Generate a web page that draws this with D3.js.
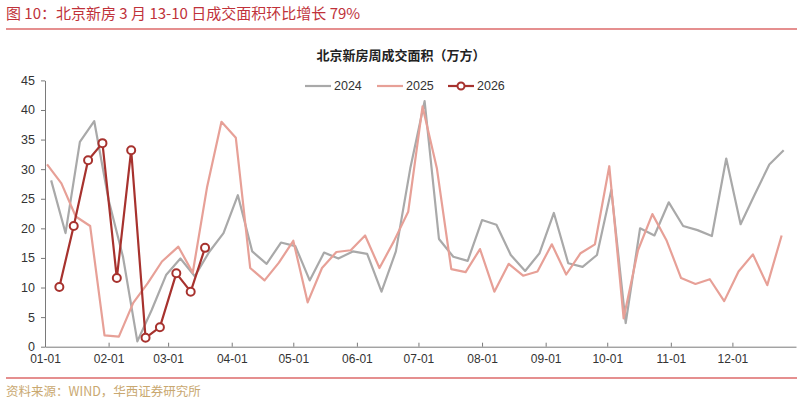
<!DOCTYPE html>
<html>
<head>
<meta charset="utf-8">
<script src="https://cdn.jsdelivr.net/npm/d3@7"></script>
<style>
  html, body { margin: 0; padding: 0; background: #fff; }
  text { font-family: "Liberation Sans", Arial, "Noto Sans CJK SC", sans-serif; }
  .cjk { font-family: "Noto Sans CJK SC", sans-serif; }
</style>
</head>
<body>
<div id="chart"></div>
<script>
// weekly data (Thursday of each week), plotted on a shared MM-DD axis
const weeks2024 = ["01-04","01-11","01-18","01-25","02-01","02-08","02-15","02-22","02-29",
  "03-07","03-14","03-21","03-28","04-04","04-11","04-18","04-25","05-02","05-09","05-16",
  "05-23","05-30","06-06","06-13","06-20","06-27","07-04","07-11","07-18","07-25","08-01",
  "08-08","08-15","08-22","08-29","09-05","09-12","09-19","09-26","10-03","10-10","10-17",
  "10-24","10-31","11-07","11-14","11-21","11-28","12-05","12-12","12-19","12-26"]
const area2024 = [28.1,19.2,34.6,38.1,24.8,15.2,0.9,6.2,12.1,14.9,11.9,16.0,19.2,25.6,16.1,
  14.0,17.6,17.0,11.2,15.9,14.9,16.1,15.7,9.3,16.1,30.1,41.5,18.2,15.2,14.5,21.4,20.6,15.5,
  12.8,15.8,22.6,14.1,13.5,15.5,26.5,4.0,20.0,18.8,24.4,20.4,19.7,18.7,31.8,20.7,25.8,30.8,33.2]

const weeks2025 = ["01-02","01-09","01-16","01-23","01-30","02-06","02-13","02-20","02-27",
  "03-06","03-13","03-20","03-27","04-03","04-10","04-17","04-24","05-01","05-08","05-15",
  "05-22","05-29","06-05","06-12","06-19","06-26","07-03","07-10","07-17","07-24","07-31",
  "08-07","08-14","08-21","08-28","09-04","09-11","09-18","09-25","10-02","10-09","10-16",
  "10-23","10-30","11-06","11-13","11-20","11-27","12-04","12-11","12-18","12-25"]
const area2025 = [30.8,27.6,22.0,20.4,1.9,1.7,7.4,10.7,14.4,16.9,12.5,27.0,38.0,35.3,13.3,
  11.2,14.2,17.9,7.5,13.3,16.0,16.3,18.8,13.3,17.8,22.8,40.6,30.1,13.1,12.6,16.5,9.3,14.0,
  12.0,12.7,17.3,12.2,15.8,17.3,30.5,4.8,16.3,22.4,17.9,11.6,10.6,11.4,7.7,12.7,15.6,10.4,18.8]

const weeks2026 = ["01-08","01-15","01-22","01-29","02-05","02-12","02-19","02-26","03-05","03-12","03-19"]
const area2026 = [10.1,20.4,31.5,34.4,11.6,33.2,1.5,3.3,12.4,9.3,16.7]

const yTicks = [0,5,10,15,20,25,30,35,40,45]
const monthTicks = ["01-01","02-01","03-01","04-01","05-01","06-01","07-01","08-01","09-01","10-01","11-01","12-01"]

const width = 800, height = 402
const margin = {top: 80.4, right: 4, bottom: 55.3, left: 45}

const parse = d3.timeParse("%Y-%m-%d")
const toDate = s => parse("2024-" + s)

const series = [
  {name: "2024", weeks: weeks2024, values: area2024, color: "#a9a9a9", width: 2.2, marker: false},
  {name: "2025", weeks: weeks2025, values: area2025, color: "#e7a097", width: 2.2, marker: false},
  {name: "2026", weeks: weeks2026, values: area2026, color: "#a7322e", width: 2.2, marker: true}
]

const svg = d3.select("#chart").append("svg")
  .attr("width", width)
  .attr("height", height)

const x = d3.scaleTime([parse("2024-01-01"), parse("2025-01-01")], [margin.left, 796])
const y = d3.scaleLinear([0, 45], [height - margin.bottom, margin.top])

// header
svg.append("text")
  .attr("class", "cjk")
  .attr("x", 6)
  .attr("y", 19)
  .attr("fill", "#c0323a")
  .attr("font-size", 15)
  .text("图 10：北京新房 3 月 13-10 日成交面积环比增长 79%")

svg.append("line")
  .attr("x1", 6).attr("x2", 797)
  .attr("y1", 29).attr("y2", 29)
  .attr("stroke", "#dc6a6a")
  .attr("stroke-width", 1.6)

svg.append("text")
  .attr("class", "cjk")
  .attr("x", 401)
  .attr("y", 60)
  .attr("text-anchor", "middle")
  .attr("font-size", 13)
  .attr("font-weight", "bold")
  .attr("fill", "#222")
  .text("北京新房周成交面积（万方）")

// axes
svg.append("g")
  .attr("transform", `translate(${margin.left},0)`)
  .call(d3.axisLeft(y).tickValues(yTicks).tickSize(4).tickSizeOuter(0).tickPadding(6))
  .call(g => g.selectAll("path, line").attr("stroke", "#7a7a7a"))
  .call(g => g.selectAll("text").attr("font-size", 12.5).attr("fill", "#333"))

svg.append("g")
  .attr("transform", `translate(0,${y(0)})`)
  .call(d3.axisBottom(x)
    .tickValues(monthTicks.map(toDate))
    .tickFormat(d3.timeFormat("%m-%d"))
    .tickSize(-4)
    .tickSizeOuter(0)
    .tickPadding(8))
  .call(g => g.selectAll("path, line").attr("stroke", "#7a7a7a"))
  .call(g => g.selectAll("text").attr("font-size", 12).attr("fill", "#333"))

// lines
const line = d3.line()
  .x(d => x(d.date))
  .y(d => y(d.value))

const lines = svg.append("g")
  .attr("fill", "none")

for (const s of series) {
  const rows = s.weeks.map((w, i) => ({date: toDate(w), value: s.values[i]}))
  lines.append("path")
    .datum(rows)
    .attr("d", line)
    .attr("stroke", s.color)
    .attr("stroke-width", s.width)
    .attr("stroke-linejoin", "round")
  if (s.marker) {
    lines.selectAll(null)
      .data(rows)
      .join("circle")
        .attr("cx", d => x(d.date))
        .attr("cy", d => y(d.value))
        .attr("r", 4)
        .attr("fill", "#fff")
        .attr("stroke", s.color)
        .attr("stroke-width", 2)
  }
}

// legend
const legendX = [305, 377, 448]
const legend = svg.append("g")
  .attr("transform", "translate(0,86)")

legend.selectAll("g")
  .data(series)
  .join("g")
    .attr("transform", (d, i) => `translate(${legendX[i]},0)`)
    .call(g => g.append("line")
      .attr("x1", 0).attr("x2", 26)
      .attr("stroke", d => d.color)
      .attr("stroke-width", 2.2))
    .call(g => g.filter(d => d.marker).append("circle")
      .attr("cx", 13).attr("r", 3.5)
      .attr("fill", "#fff")
      .attr("stroke", d => d.color)
      .attr("stroke-width", 2))
    .call(g => g.append("text")
      .attr("x", 29)
      .attr("dy", "0.35em")
      .attr("font-size", 12.5)
      .attr("fill", "#333")
      .text(d => d.name))

// footer
svg.append("line")
  .attr("x1", 6).attr("x2", 797)
  .attr("y1", 378).attr("y2", 378)
  .attr("stroke", "#dc6a6a")
  .attr("stroke-width", 1.6)

svg.append("text")
  .attr("class", "cjk")
  .attr("x", 6)
  .attr("y", 396)
  .attr("font-size", 12.5)
  .attr("fill", "#c9a870")
  .text("资料来源：WIND，华西证券研究所")
</script>
</body>
</html>
